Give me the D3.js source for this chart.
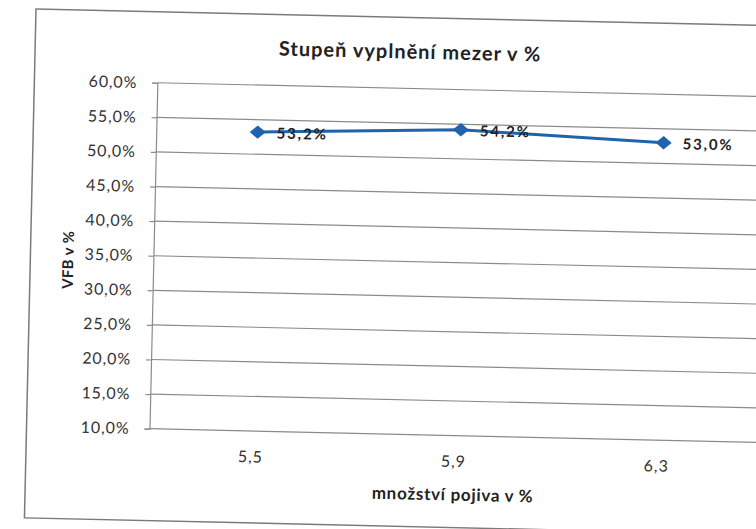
<!DOCTYPE html>
<html>
<head>
<meta charset="utf-8">
<style>
html, body { margin: 0; padding: 0; background: #fff; }
svg { display: block; }
</style>
</head>
<body>
<div id="chart"></div>
<script src="https://d3js.org/d3.v7.min.js"></script>
<script>
const categories = ["5,5", "5,9", "6,3"];
const values = [53.2, 54.2, 53.0];
const yTicks = [10, 15, 20, 25, 30, 35, 40, 45, 50, 55, 60];
const title = "Stupeň vyplnění mezer v %";
const xTitle = "množství pojiva v %";
const yTitle = "VFB v %";

const width = 756, height = 529;
const font = "Lato, 'Open Sans', sans-serif";

const svg = d3.select("#chart").append("svg")
    .attr("width", width)
    .attr("height", height);

// the scanned chart is tilted a little clockwise
const g = svg.append("g").attr("transform", "rotate(1.3,36,9)");

// outer chart frame
g.append("rect")
    .attr("x", 36).attr("y", 9)
    .attr("width", 790).attr("height", 509)
    .attr("fill", "#fff")
    .attr("stroke", "#7a7a7a")
    .attr("stroke-width", 1.5);

const plot = {left: 159, top: 80, right: 768, bottom: 426};

const x = d3.scaleBand().domain(categories).range([plot.left, plot.right]);
const y = d3.scaleLinear().domain([10, 60]).range([plot.bottom, plot.top]);
const pct = v => d3.format(".1f")(v).replace(".", ",") + "%";

// gridlines
g.append("g")
    .selectAll("line")
    .data(yTicks)
    .join("line")
    .attr("x1", plot.left)
    .attr("x2", plot.right)
    .attr("y1", d => y(d))
    .attr("y2", d => y(d))
    .attr("stroke", "#8a8a8a")
    .attr("stroke-width", 1.2);

// y axis
const yAxis = g.append("g")
    .attr("transform", `translate(${plot.left},0)`)
    .call(d3.axisLeft(y).tickValues(yTicks).tickFormat(pct).tickSize(5).tickPadding(15));
yAxis.select(".domain").attr("stroke", "#8a8a8a").attr("stroke-width", 1.2);
yAxis.selectAll(".tick line").attr("stroke", "#8a8a8a").attr("stroke-width", 1.2);
yAxis.selectAll(".tick text")
    .attr("fill", "#333")
    .style("font-family", font)
    .style("font-size", "16px")
    .style("letter-spacing", "0.9px");

// x axis
const xAxis = g.append("g")
    .attr("transform", `translate(0,${plot.bottom})`)
    .call(d3.axisBottom(x).tickSize(0).tickPadding(20));
xAxis.select(".domain").remove();
xAxis.selectAll(".tick text")
    .attr("fill", "#333")
    .style("font-family", font)
    .style("font-size", "16px")
    .style("letter-spacing", "1px");

// title
g.append("text")
    .attr("x", 411).attr("y", 50)
    .attr("text-anchor", "middle")
    .attr("fill", "#222")
    .style("font-family", font)
    .style("font-weight", "bold")
    .style("font-size", "20px")
    .style("letter-spacing", "1px")
    .text(title);

// axis titles
g.append("text")
    .attr("x", (plot.left + plot.right) / 2).attr("y", 491)
    .attr("text-anchor", "middle")
    .attr("fill", "#222")
    .style("font-family", font)
    .style("font-weight", "bold")
    .style("font-size", "17px")
    .style("letter-spacing", "0.7px")
    .text(xTitle);

g.append("text")
    .attr("transform", `translate(79,${(plot.top + plot.bottom) / 2 + 6}) rotate(-90)`)
    .attr("text-anchor", "middle")
    .attr("fill", "#222")
    .style("font-family", font)
    .style("font-weight", "bold")
    .style("font-size", "15px")
    .style("letter-spacing", "0.4px")
    .text(yTitle);

// series
const cx = (d, i) => x(categories[i]) + x.bandwidth() / 2;
const line = d3.line().x(cx).y(d => y(d));

g.append("path")
    .datum(values)
    .attr("d", line)
    .attr("fill", "none")
    .attr("stroke", "#1f63ad")
    .attr("stroke-width", 3);

g.append("g")
    .selectAll("path")
    .data(values)
    .join("path")
    .attr("d", d3.symbol(d3.symbolSquare, 90))
    .attr("transform", (d, i) => `translate(${cx(d, i)},${y(d)}) scale(1.2,1) rotate(45)`)
    .attr("fill", "#1f63ad");

g.append("g")
    .selectAll("text")
    .data(values)
    .join("text")
    .attr("x", (d, i) => cx(d, i) + 19)
    .attr("y", d => y(d) + 6)
    .attr("fill", "#222")
    .style("font-family", font)
    .style("font-weight", "bold")
    .style("font-size", "15px")
    .style("letter-spacing", "1.8px")
    .text(pct);
</script>
</body>
</html>
